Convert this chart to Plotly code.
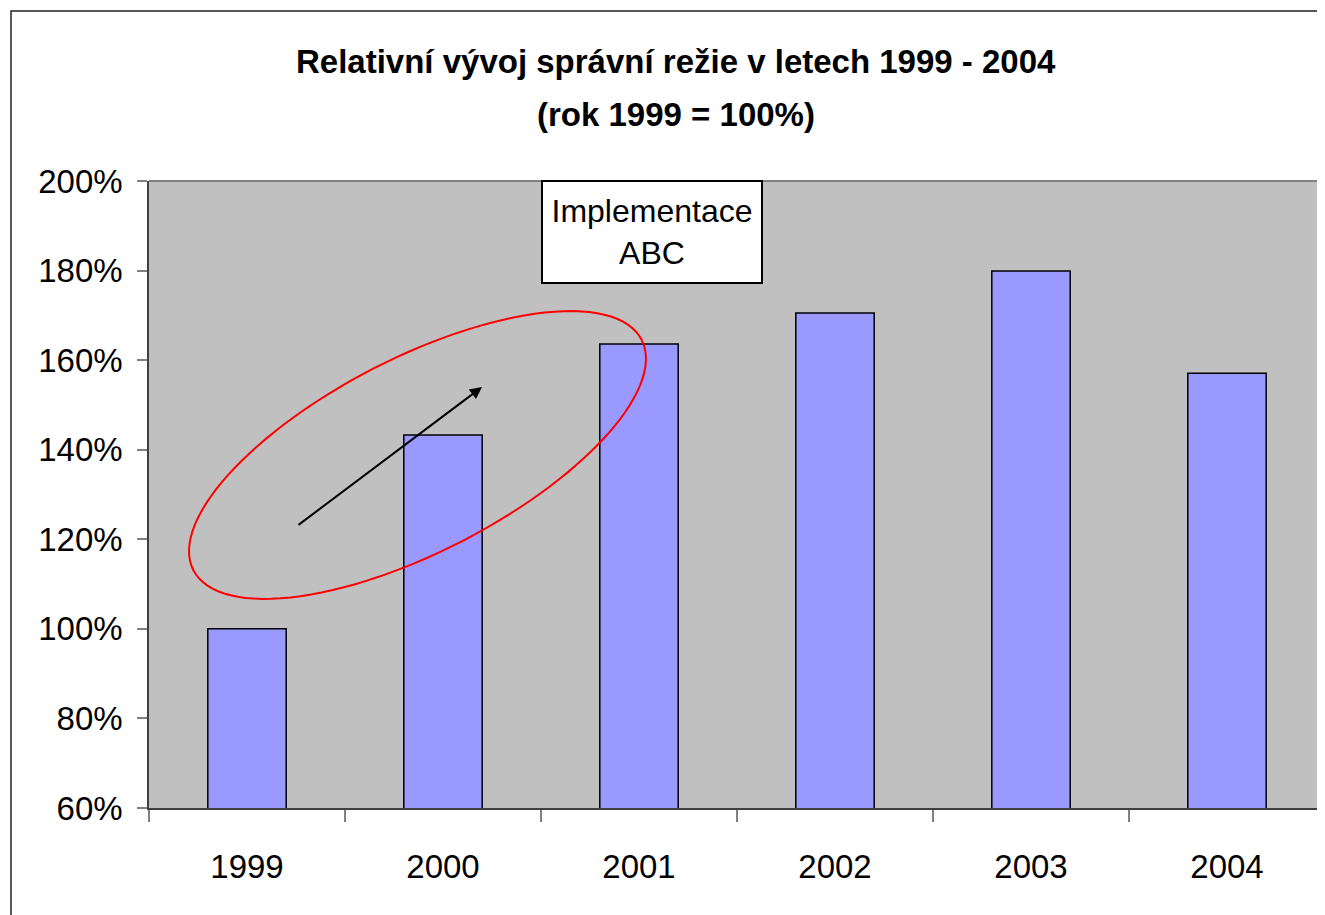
import numpy as np
import plotly.graph_objects as go

# Data (rok 1999 = 100 %)
years = ['1999', '2000', '2001', '2002', '2003', '2004']
relative_cost = [1.00, 1.433, 1.636, 1.705, 1.799, 1.571]

y_ticks = [0.6, 0.8, 1.0, 1.2, 1.4, 1.6, 1.8, 2.0]

FONT = 'Liberation Sans, Arial'

# The page body has an 8px margin, so the figure is a bit smaller than the window
OFF = 8
W, H = 1325 - OFF, 915 - OFF
L, T, B = 149 - OFF, 181 - OFF, 107
plot_w = W - L
plot_h = H - T - B


def px_to_paper(px, py):
    # page pixels -> paper coordinates (used for the decorations only)
    fx = np.asarray(px) - OFF
    fy = np.asarray(py) - OFF
    return (fx - L) / plot_w, (H - B - fy) / plot_h


fig = go.Figure()

fig.add_trace(go.Bar(
    x=years,
    y=relative_cost,
    marker=dict(color='#9999FF', line=dict(color='black', width=1.5)),
    width=0.4,
    hovertemplate='%{x}: %{y:.0%}<extra></extra>',
))

# Red ellipse round the ABC implementation period (polyline path)
cx, cy, a, b, ang = 417.5, 455, 252, 97, np.deg2rad(27.2)
t = np.linspace(0, 2 * np.pi, 121)
ex = cx + a * np.cos(t) * np.cos(ang) + b * np.sin(t) * np.sin(ang)
ey = cy - a * np.cos(t) * np.sin(ang) + b * np.sin(t) * np.cos(ang)
pxs, pys = px_to_paper(ex, ey)
path = 'M ' + ' L '.join(f'{x:.5f},{y:.5f}' for x, y in zip(pxs, pys)) + ' Z'
fig.add_shape(type='path', path=path, xref='paper', yref='paper',
              line=dict(color='#FF0000', width=2))

# Gray top border of the plot area
fig.add_shape(type='line', xref='paper', yref='paper', x0=0, x1=1, y0=1, y1=1,
              line=dict(color='#808080', width=2))

# Outer chart frame
fx0, fy0 = px_to_paper(11, 11)
fx1, fy1 = px_to_paper(1340, 930)
fig.add_shape(type='rect', xref='paper', yref='paper',
              x0=fx0, y0=fy1, x1=fx1, y1=fy0,
              line=dict(color='#222222', width=1.5), layer='below')

# Arrow
tipx, tipy = px_to_paper(482, 387)
fig.add_annotation(x=float(tipx), y=float(tipy), xref='paper', yref='paper',
                   ax=297 - 482, ay=526 - 387, showarrow=True,
                   arrowhead=2, arrowsize=1.2, arrowwidth=2, arrowcolor='black', text='')

# Text box
bx, by = px_to_paper(652, 232)
fig.add_annotation(x=float(bx), y=float(by), xref='paper', yref='paper',
                   text='Implementace<br>ABC', showarrow=False,
                   font=dict(family=FONT, size=32, color='black'),
                   bgcolor='white', bordercolor='black', borderwidth=2,
                   width=216, height=98, xanchor='center', yanchor='middle')

# Two-line bold title
t1x, t1y = px_to_paper(676, 62)
t2x, t2y = px_to_paper(676, 115)
fig.add_annotation(x=float(t1x), y=float(t1y), xref='paper', yref='paper',
                   text='<b>Relativní vývoj správní režie v letech 1999 - 2004</b>',
                   showarrow=False, font=dict(family=FONT, size=33, color='black'),
                   xanchor='center', yanchor='middle')
fig.add_annotation(x=float(t2x), y=float(t2y), xref='paper', yref='paper',
                   text='<b>(rok 1999 = 100%)</b>',
                   showarrow=False, font=dict(family=FONT, size=33, color='black'),
                   xanchor='center', yanchor='middle')

fig.update_layout(
    width=W, height=H,
    margin=dict(l=L, r=0, t=T, b=B),
    paper_bgcolor='white',
    plot_bgcolor='#C0C0C0',
    showlegend=False,
    bargap=0.6,
)

fig.update_xaxes(
    type='category',
    showgrid=False,
    showline=True, linecolor='#404040', linewidth=1.5,
    ticks='outside', tickson='boundaries', ticklen=12, tickcolor='#808080', tickwidth=1.5,
    tickfont=dict(family=FONT, size=33, color='black'),
    ticklabelstandoff=29,
)

fig.update_yaxes(
    range=[0.6, 2.0],
    tickvals=y_ticks,
    tickformat='.0%',
    showgrid=False, zeroline=False,
    showline=True, linecolor='#404040', linewidth=1.5,
    ticks='outside', ticklen=10, tickcolor='#808080', tickwidth=1.5,
    tickfont=dict(family=FONT, size=33, color='black'),
    ticklabelstandoff=8,
)

fig.write_html('out.html')
